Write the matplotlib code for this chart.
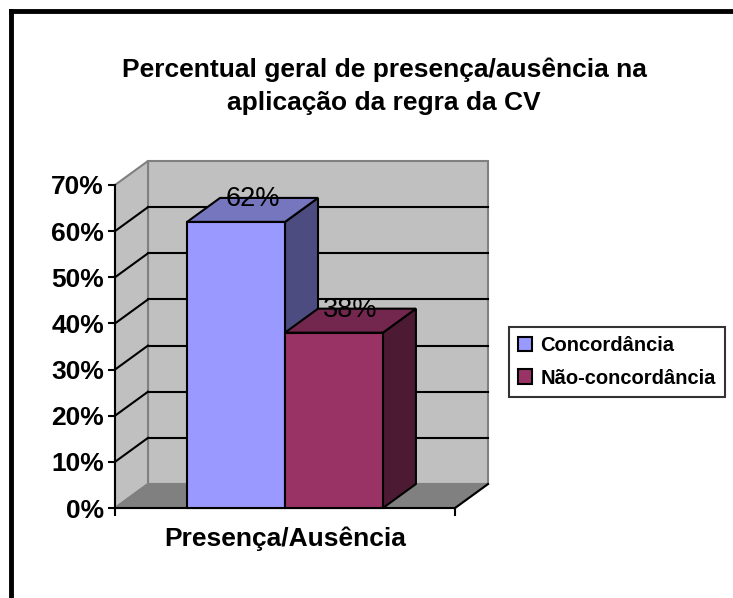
import matplotlib
matplotlib.use("Agg")
import matplotlib.pyplot as plt
from matplotlib.patches import Polygon, Patch
from matplotlib.lines import Line2D

plt.rcParams['font.family'] = ['Liberation Sans', 'DejaVu Sans']

# data
series = ['Concordância', 'Não-concordância']
values = [62, 38]
labels = ['62%', '38%']
category = 'Presença/Ausência'
yticks = [0, 10, 20, 30, 40, 50, 60, 70]
front_colors = ['#9999FF', '#993366']
top_colors = ['#7676BE', '#73264E']
side_colors = ['#4C4C80', '#4D1A33']

title = 'Percentual geral de presença/ausência na\naplicação da regra da CV'

W, H = 733, 598
fig = plt.figure(figsize=(W / 100, H / 100), dpi=100)

# frame around the chart area (only top and left visible)
fig.add_artist(Line2D([11 / W, 11 / W], [0, 1 - 11 / H], color='black', lw=3.5))
fig.add_artist(Line2D([11 / W, 1], [1 - 11 / H, 1 - 11 / H], color='black', lw=3.5))

ax = fig.add_axes([115 / W, 90 / H, 340 / W, 323 / H])
ax.set_xlim(0, 1)
ax.set_ylim(0, 70)
ax.patch.set_alpha(0)

# 3d depth in data units
DX = 33 / 340
DY = 24 / 323 * 70
ymax = yticks[-1]

# walls and floor
ax.add_patch(Polygon([(DX, DY), (1 + DX, DY), (1 + DX, ymax + DY), (DX, ymax + DY)],
                     closed=True, fc='#C0C0C0', ec='#808080', lw=1.5, clip_on=False, zorder=1))
ax.add_patch(Polygon([(0, 0), (DX, DY), (DX, ymax + DY), (0, ymax)],
                     closed=True, fc='#C0C0C0', ec='#808080', lw=1.5, clip_on=False, zorder=1))
ax.add_patch(Polygon([(0, 0), (1, 0), (1 + DX, DY), (DX, DY)],
                     closed=True, fc='#808080', ec='#808080', lw=1.5, clip_on=False, zorder=1))
ax.plot([1, 1 + DX], [0, DY], color='black', lw=1.5, clip_on=False, zorder=2)

# gridlines
for v in yticks[1:-1]:
    ax.plot([DX, 1 + DX], [v + DY, v + DY], color='black', lw=1.5, clip_on=False, zorder=2)
    ax.plot([0, DX], [v, v + DY], color='black', lw=1.5, clip_on=False, zorder=2)

# bars
width = 0.288
for i, v in enumerate(values):
    x0 = 0.5 - width + i * width
    x1 = x0 + width
    kw = dict(closed=True, ec='black', lw=1.5, clip_on=False, zorder=3 + i)
    ax.add_patch(Polygon([(x1, 0), (x1 + DX, DY), (x1 + DX, v + DY), (x1, v)], fc=side_colors[i], **kw))
    ax.add_patch(Polygon([(x0, v), (x1, v), (x1 + DX, v + DY), (x0 + DX, v + DY)], fc=top_colors[i], **kw))
    ax.add_patch(Polygon([(x0, 0), (x1, 0), (x1, v), (x0, v)], fc=front_colors[i], **kw))
    ax.text((x0 + x1) / 2 + DX / 2, v + DY / 2 + 0.9, labels[i], ha='center', va='baseline',
            fontsize=19.5, zorder=10)

# axes
for s in ['top', 'right']:
    ax.spines[s].set_visible(False)
ax.spines['left'].set_linewidth(1.5)
ax.spines['bottom'].set_linewidth(1.5)
ax.spines['left'].set_zorder(2.5)
ax.spines['bottom'].set_zorder(2.5)
ax.set_yticks(yticks)
ax.set_yticklabels([f'{t}%' for t in yticks], fontsize=19, fontweight='bold')
ax.set_xticks([0, 1])
ax.set_xticklabels(['', ''])
ax.tick_params(axis='y', direction='out', length=5, width=1.5, pad=3)
ax.tick_params(axis='x', direction='out', length=6, width=1.5)
ax.set_xlabel(category, fontsize=19, fontweight='bold', labelpad=4)

fig.text(384 / W, 1 - 86 / H, title, ha='center', va='center', fontsize=19,
         fontweight='bold', linespacing=1.45)

handles = [Patch(fc=c, ec='black', lw=1.5) for c in front_colors]
leg = fig.legend(handles, series, loc='center left', bbox_to_anchor=(509 / W, 1 - 362 / H),
                 frameon=True, fancybox=False, edgecolor='black',
                 prop={'weight': 'bold', 'size': 14.5}, handlelength=0.7, handleheight=0.7,
                 handletextpad=0.4, borderpad=0.45, labelspacing=0.65, borderaxespad=0)
leg.get_frame().set_linewidth(1.5)

fig.savefig('out.png', dpi=100)
